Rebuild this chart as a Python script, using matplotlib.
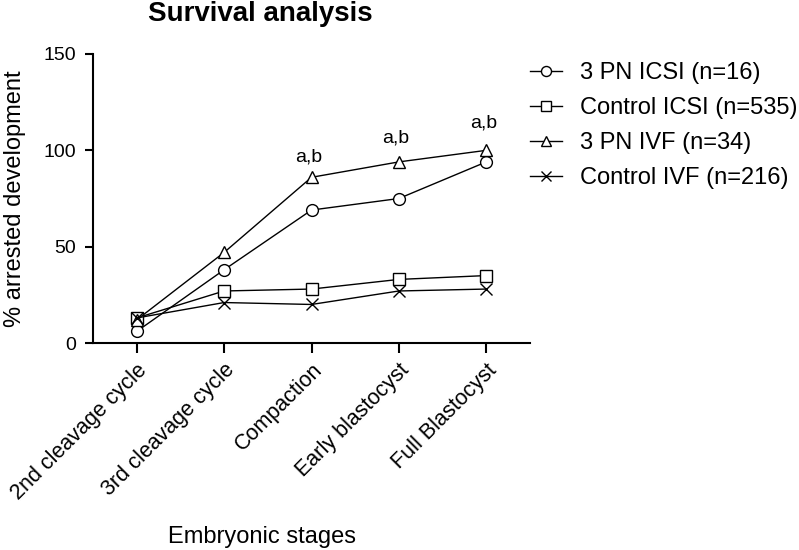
import matplotlib
matplotlib.use("Agg")
import matplotlib.pyplot as plt
import matplotlib.transforms as mtransforms

plt.rcParams["font.family"] = ["Liberation Sans", "DejaVu Sans"]

# data
stages = ["2nd cleavage cycle", "3rd cleavage cycle", "Compaction", "Early blastocyst", "Full Blastocyst"]
pn3_icsi = [6, 38, 69, 75, 94]
ctrl_icsi = [13, 27, 28, 33, 35]
pn3_ivf = [12, 47, 86, 94, 100]
ctrl_ivf = [13, 21, 20, 27, 28]
# significance marks (stage index, height of label)
sig_idx = [2, 3, 4]
sig_y = [94, 104, 112]
sig_text = "a,b"

W, H = 799, 550
fig = plt.figure(figsize=(W / 100, H / 100), dpi=100)
ax = fig.add_axes([93 / W, 1 - 343 / H, (530 - 93) / W, (343 - 54) / H])

x = list(range(len(stages)))
kw = dict(color="black", linewidth=1.0, markersize=8.5, markerfacecolor="white", markeredgewidth=1.0)
ax.plot(x, pn3_icsi, marker="o", label="3 PN ICSI (n=16)", **kw)
ax.plot(x, ctrl_icsi, marker="s", label="Control ICSI (n=535)", **kw)
ax.plot(x, pn3_ivf, marker="^", label="3 PN IVF (n=34)", **kw)
ax.plot(x, ctrl_ivf, marker="x", label="Control IVF (n=216)", **kw)

for i, yv in zip(sig_idx, sig_y):
    ax.text(i - 0.035, yv, sig_text, ha="center", va="baseline", fontsize=14)

ax.set_xlim(-0.5, 4.5)
ax.set_ylim(0, 150)
ax.set_yticks([0, 50, 100, 150])
ax.set_xticks(x)
ax.set_xticklabels(stages, rotation=45, ha="right", va="top", rotation_mode="anchor", fontsize=15.5)
shift = mtransforms.ScaledTranslation(2 / 100, 0, fig.dpi_scale_trans)
for lab in ax.get_xticklabels():
    lab.set_transform(lab.get_transform() + shift)
ax.tick_params(axis="y", labelsize=14, width=1.5, length=6, pad=6)
ax.tick_params(axis="x", width=1.5, length=7, pad=5)
for s in ["top", "right"]:
    ax.spines[s].set_visible(False)
for s in ["left", "bottom"]:
    ax.spines[s].set_linewidth(1.5)

ax.set_ylabel("% arrested development", fontsize=17)
ax.yaxis.set_label_coords(-(93 - 26) / 437, 0.5)
ax.set_xlabel("Embryonic stages", fontsize=17)
ax.xaxis.set_label_coords((262 - 93) / 437, -(526 - 343) / 289)
ax.set_title("Survival analysis", fontsize=20, fontweight="bold", x=(260 - 93) / 437,
             y=(343 - 21) / 289, pad=0, va="baseline")

ax.legend(loc="upper left", bbox_to_anchor=(530 / W, 1 - 62 / H), bbox_transform=fig.transFigure,
          frameon=False, fontsize=17, borderpad=0, borderaxespad=0,
          handlelength=1.36, handletextpad=0.76, labelspacing=0.55, markerscale=0.85)

fig.savefig("out.png", dpi=100)
